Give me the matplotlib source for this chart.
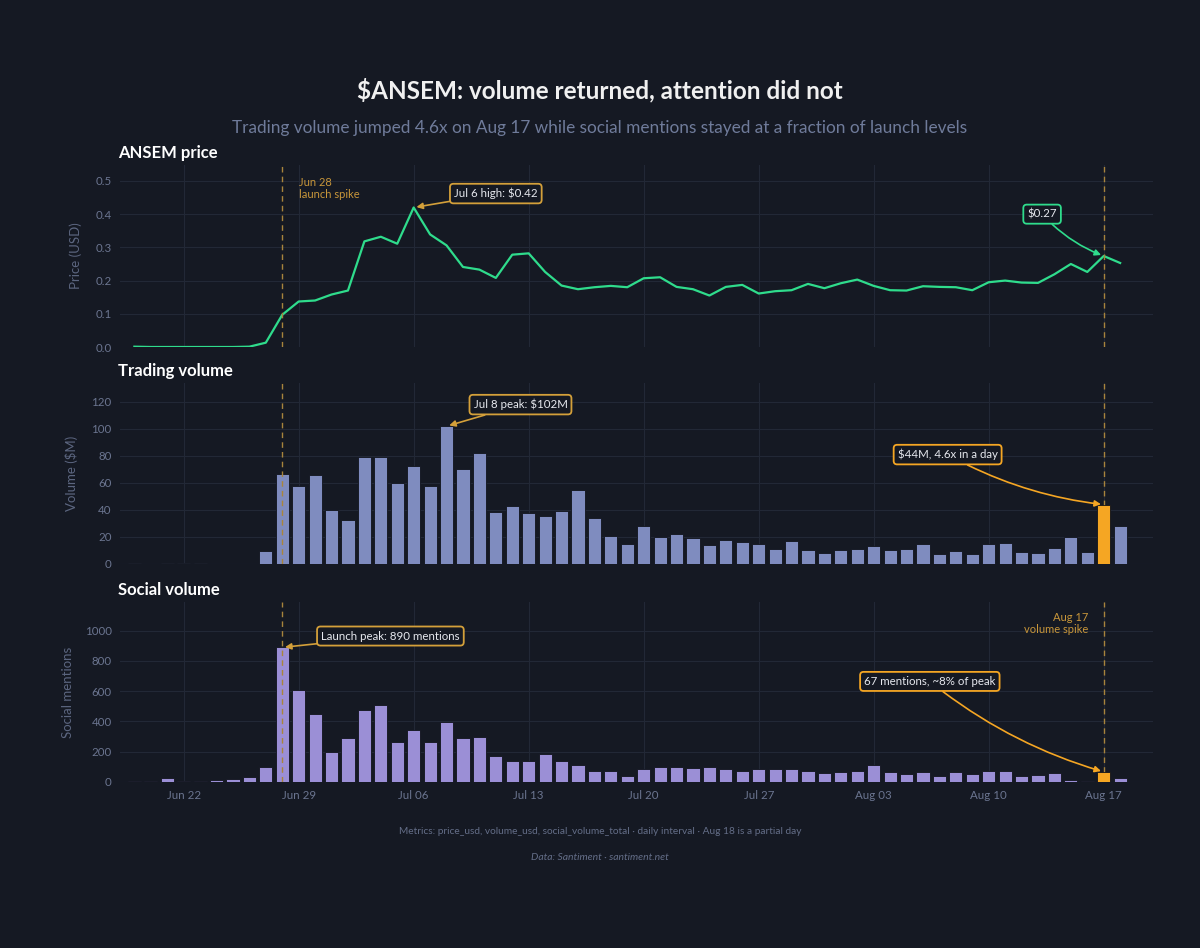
import numpy as np
import pandas as pd
import matplotlib
matplotlib.use("Agg")
import matplotlib.pyplot as plt
import matplotlib.dates as mdates

plt.rcParams['font.family'] = ['Lato', 'DejaVu Sans']

# daily data, Jun 19 -> Aug 18
dates = pd.date_range("2024-06-19", "2024-08-18", freq="D")

price = [0.001, 0.0, 0.0, 0.0, 0.0, 0.0, 0.0, 0.001, 0.013, 0.097, 0.137, 0.14,
         0.158, 0.17, 0.318, 0.332, 0.311, 0.42, 0.339, 0.306, 0.241, 0.233, 0.208,
         0.278, 0.282, 0.226, 0.185, 0.174, 0.18, 0.184, 0.18, 0.207, 0.21, 0.181,
         0.174, 0.155, 0.181, 0.187, 0.161, 0.168, 0.171, 0.19, 0.177, 0.192, 0.203,
         0.184, 0.171, 0.17, 0.183, 0.181, 0.18, 0.171, 0.195, 0.2, 0.194, 0.193,
         0.219, 0.25, 0.226, 0.274, 0.253]

volume = [0.8, 0.0, 0.8, 0.8, 0.7, 0.0, 0.0, 0.0, 9.7, 67, 58, 66,
          40, 32.5, 79, 79, 60, 72.5, 58, 102, 70, 82, 38.6,
          42.6, 38, 35.6, 39.4, 55, 34.4, 20.8, 15, 28, 20, 22.5,
          19.5, 14, 17.6, 16, 14.8, 11.4, 17, 10.6, 8.4, 10.6, 10.9,
          13.6, 10.1, 11.4, 14.6, 7.4, 9.9, 7.4, 14.8, 15.6, 8.9, 8.2,
          11.9, 20, 9.2, 44, 28.5]

social = [4, 9, 24, 9, 9, 11, 20, 33, 97, 890, 607, 450,
          200, 288, 475, 508, 266, 347, 262, 398, 290, 297, 171,
          136, 136, 185, 136, 112, 73, 70, 42, 84, 101, 97,
          90, 97, 86, 70, 88, 88, 88, 73, 59, 64, 73,
          112, 64, 51, 68, 42, 66, 53, 70, 70, 37, 46,
          57, 13, 9, 67, 26]

launch_day = pd.Timestamp("2024-06-28")
spike_day = pd.Timestamp("2024-08-17")

BG = "#151923"
GRID = "#222836"
TICK = "#6b7590"
GREEN = "#2fdc8c"
VOLC = "#7f8cbf"
SOCC = "#9b8fd6"
ORANGE = "#f5a623"
GOLD = "#d4a03a"
VLINE = "#a8843c"

fig = plt.figure(figsize=(12, 9.48), dpi=100, facecolor=BG)
W, H = 1200, 948

def make_ax(top, bottom):
    return fig.add_axes([120 / W, 1 - bottom / H, (1153 - 120) / W, (bottom - top) / H])

ax1 = make_ax(165, 347)
ax2 = make_ax(383, 564)
ax3 = make_ax(602, 782)

xlo = pd.Timestamp("2024-06-18 03:00")
xhi = pd.Timestamp("2024-08-20 00:00")

for ax in (ax1, ax2, ax3):
    ax.set_facecolor(BG)
    for s in ax.spines.values():
        s.set_visible(False)
    ax.grid(True, color=GRID, linewidth=0.8)
    ax.set_axisbelow(True)
    ax.tick_params(colors=TICK, labelsize=8.3, length=0, pad=6)
    ax.set_xlim(xlo, xhi)
    ax.xaxis.set_major_locator(mdates.WeekdayLocator(byweekday=mdates.SA, interval=1))
    ax.xaxis.set_major_formatter(mdates.DateFormatter("%b %d"))
    for d in (launch_day, spike_day):
        ax.axvline(d, color=VLINE, linestyle=(0, (4, 3)), linewidth=1, zorder=5)

for ax in (ax1, ax2):
    ax.tick_params(labelbottom=False)

spike_i = list(dates).index(spike_day)

# price
ax1.plot(dates, price, color=GREEN, linewidth=1.6, zorder=4)
ax1.set_ylim(0, 0.548)
ax1.set_yticks([0, 0.1, 0.2, 0.3, 0.4, 0.5])
ax1.set_yticklabels(["0.0", "0.1", "0.2", "0.3", "0.4", "0.5"])
ax1.set_ylabel("Price (USD)", color="#5c6680", fontsize=9.5, labelpad=10)

# volume
ax2.bar(dates, volume, width=0.8, color=VOLC, edgecolor="#10131b", linewidth=0.6, zorder=3)
ax2.bar(dates[spike_i], volume[spike_i], width=0.8, color=ORANGE, edgecolor="#10131b", linewidth=0.6, zorder=6)
ax2.set_ylim(0, 134)
ax2.set_yticks(range(0, 121, 20))
ax2.set_ylabel("Volume ($M)", color="#5c6680", fontsize=9.5, labelpad=10)

# social
ax3.bar(dates, social, width=0.8, color=SOCC, edgecolor="#10131b", linewidth=0.6, zorder=3)
ax3.bar(dates[spike_i], social[spike_i], width=0.8, color=ORANGE, edgecolor="#10131b", linewidth=0.6, zorder=6)
ax3.set_ylim(0, 1190)
ax3.set_yticks(range(0, 1001, 200))
ax3.set_ylabel("Social mentions", color="#5c6680", fontsize=9.5, labelpad=8)

# panel titles
for ax, t in ((ax1, "ANSEM price"), (ax2, "Trading volume"), (ax3, "Social volume")):
    ax.text(-0.002, 1.02, t, transform=ax.transAxes, color="white", fontsize=12,
            fontweight="bold", ha="left", va="bottom")

def callout(ax, text, xy, xytext, color, rad=0.0):
    ax.annotate(text, xy=xy, xytext=xytext, textcoords="data",
                color="#e6e8ee", fontsize=8.3, ha="center", va="center", zorder=10,
                bbox=dict(boxstyle="round,pad=0.35,rounding_size=0.3", fc=BG, ec=color, lw=1.3),
                arrowprops=dict(arrowstyle="-|>", color=color, lw=1.2, mutation_scale=9,
                                connectionstyle=f"arc3,rad={rad}", shrinkA=0, shrinkB=2))

def idx(day):
    return list(dates).index(pd.Timestamp(day))

callout(ax1, "Jul 6 high: $0.42", (dates[idx("2024-07-06")], price[idx("2024-07-06")]),
        (pd.Timestamp("2024-07-11 00:00"), 0.462), GOLD)
callout(ax1, "$0.27", (spike_day, price[idx("2024-08-17")]),
        (pd.Timestamp("2024-08-13 06:00"), 0.40), GREEN, rad=0.12)
ax1.text(pd.Timestamp("2024-06-29 00:00"), 0.512, "Jun 28\nlaunch spike", color="#c8963a",
         fontsize=8, ha="left", va="top", linespacing=1.1)

callout(ax2, "Jul 8 peak: $102M", (dates[idx("2024-07-08")], volume[idx("2024-07-08")]),
        (pd.Timestamp("2024-07-12 12:00"), 118), GOLD)
callout(ax2, "$44M, 4.6x in a day", (spike_day, volume[idx("2024-08-17")]),
        (pd.Timestamp("2024-08-07 12:00"), 81), ORANGE, rad=0.1)

callout(ax3, "Launch peak: 890 mentions", (launch_day, social[idx("2024-06-28")]),
        (pd.Timestamp("2024-07-04 14:00"), 965), GOLD)
callout(ax3, "67 mentions, ~8% of peak", (spike_day, social[idx("2024-08-17")]),
        (pd.Timestamp("2024-08-06 10:00"), 665), ORANGE, rad=0.1)
ax3.text(pd.Timestamp("2024-08-16 01:00"), 1125, "Aug 17\nvolume spike", color="#c8963a",
         fontsize=8, ha="right", va="top", linespacing=1.1)

# titles and footer
fig.text(0.5, 1 - 90 / H, "$ANSEM: volume returned, attention did not", color="#f0f0f0",
         fontsize=17.5, fontweight="bold", ha="center", va="center")
fig.text(0.5, 1 - 128 / H, "Trading volume jumped 4.6x on Aug 17 while social mentions stayed at a fraction of launch levels",
         color="#6f7b9a", fontsize=12.4, ha="center", va="center")
fig.text(0.5, 1 - 832 / H, "Metrics: price_usd, volume_usd, social_volume_total · daily interval · Aug 18 is a partial day",
         color="#646e88", fontsize=7.3, ha="center", va="center")
fig.text(0.5, 1 - 857 / H, "Data: Santiment · santiment.net", color="#646e88", fontsize=7.5,
         style="italic", ha="center", va="center")

fig.savefig("out.png", dpi=100, facecolor=BG)
